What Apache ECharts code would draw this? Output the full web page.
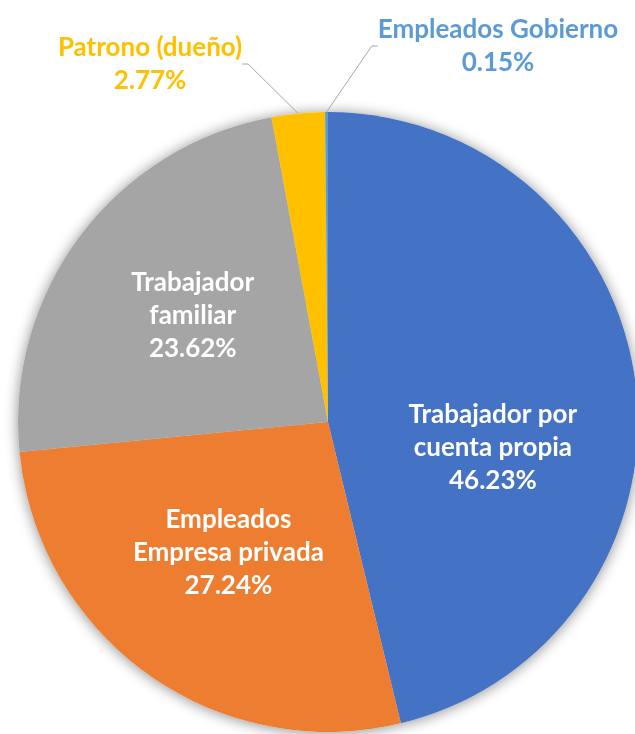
<!DOCTYPE html>
<html>
<head>
<meta charset="utf-8">
<script src="https://cdn.jsdelivr.net/npm/echarts@6/dist/echarts.min.js"></script>
<style>html,body{margin:0;padding:0;background:#fff;}#c{width:635px;height:734px;}</style>
</head>
<body>
<div id="c"></div>
<script>
var categories = ['Trabajador por\ncuenta propia', 'Empleados\nEmpresa privada', 'Trabajador\nfamiliar', 'Patrono (dueño)', 'Empleados Gobierno'];
var values = [46.23, 27.24, 23.62, 2.77, 0.15];
var colors = ['#4472C4', '#ED7D31', '#A5A5A5', '#FFC000', '#5B9BD5'];
var labelColors = ['#FFFFFF', '#FFFFFF', '#FFFFFF', '#FFC000', '#5B9BD5'];

var chart = echarts.init(document.getElementById('c'));
var dataMain = categories.map(function (n, i) {
  var item = { name: n, value: values[i], itemStyle: { color: colors[i] },
    label: { color: labelColors[i] } };
  if (i >= 3) {
    item.label.position = 'outside';
    item.labelLine = { show: true, length: 40, length2: 6, lineStyle: { color: '#A6A6A6', width: 1 } };
  } else {
    item.label.position = 'inside';
  }
  return item;
});
var dataShadow = categories.map(function (n, i) { return { name: n, value: values[i] }; });

chart.setOption({
  animation: false,
  series: [
    {
      type: 'pie', silent: true, z: 1,
      center: [328, 422], radius: 310, startAngle: 90,
      label: { show: false }, labelLine: { show: false },
      itemStyle: { color: '#ffffff', shadowBlur: 14, shadowColor: 'rgba(0,0,0,0.45)', shadowOffsetY: 1 },
      data: dataShadow
    },
    {
      type: 'pie', z: 2,
      center: [328, 422], radius: 310, startAngle: 90,
      avoidLabelOverlap: false,
      label: {
        show: true,
        fontFamily: 'Lato', fontWeight: 'bold', fontSize: 26, lineHeight: 33,
        align: 'center',
        formatter: function (p) { return p.name + '\n' + p.value.toFixed(2) + '%'; }
      },
      itemStyle: { borderWidth: 0 },
      labelLayout: function (p) {
        var i = p.dataIndex;
        if (i === 0) return { dx: 8, dy: 44 };
        if (i === 1) return { dx: -8, dy: 2 };
        if (i === 2) return { dx: -9, dy: -11 };
        if (i === 3) return { x: 150, y: 64, align: 'center', verticalAlign: 'middle' };
        if (i === 4) return { x: 498, y: 46, align: 'center', verticalAlign: 'middle' };
        return {};
      },
      data: dataMain
    }
  ]
});
</script>
</body>
</html>
